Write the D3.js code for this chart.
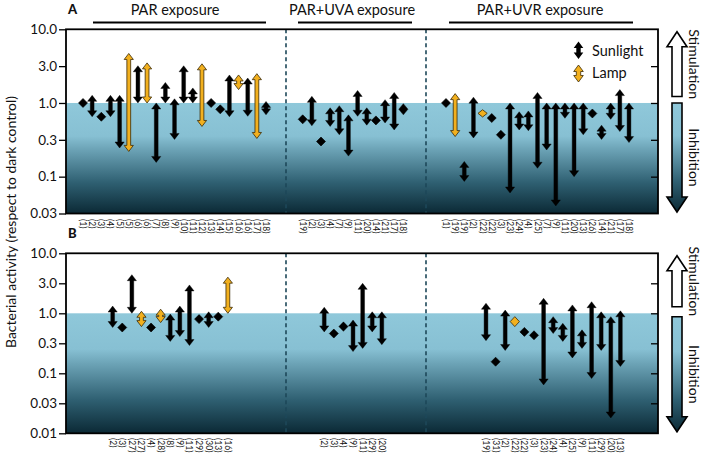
<!DOCTYPE html>
<html><head><meta charset="utf-8">
<script src="https://cdn.jsdelivr.net/npm/d3@7"></script>
<style>body{margin:0;background:#fff} svg{display:block} text{font-family:Lato,"Open Sans",sans-serif;fill:#111}</style>
</head><body><svg id="c" width="708" height="462"></svg>
<script>
// ---------- DATA ----------
const yTickValues = [10, Math.pow(10,0.5), 1, Math.pow(10,-0.5), 0.1, Math.pow(10,-1.5), 0.01];
const yTickLabels = ["10.0","3.0","1.0","0.3","0.1","0.03","0.01"];
const sectionTitles = ["PAR exposure","PAR+UVA exposure","PAR+UVR exposure"];

// Panel A – PAR
const aParLabels = ["(1)","(2)","(3)","(4)","(5)","(5)","(6)","(6)","(7)","(8)","(9)","(10)","(11)","(12)","(13)","(14)","(15)","(16)","(16)","(17)","(18)"];
const aParLow  = [1.0,0.65,0.65,0.65,0.245,0.22,1.0,1.0,0.156,1.0,0.32,1.0,1.0,0.48,1.0,0.82,0.65,1.52,0.66,0.33,0.69];
const aParHigh = [1.0,1.27,0.65,1.27,1.27,4.7,3.2,3.5,1.0,1.9,1.14,3.2,1.6,3.4,1.0,0.82,2.4,2.4,2.18,2.5,1.05];
const aParSrc  = ["S","S","S","S","S","L","S","L","S","S","S","S","S","L","S","S","S","L","S","L","S"];
// Panel A – PAR+UVA
const aUvaLabels = ["(19)","(2)","(3)","(4)","(7)","(9)","(11)","(20)","(14)","(21)","(17)","(18)"];
const aUvaLow  = [0.6,0.49,0.30,0.48,0.37,0.19,0.66,0.5,0.58,0.535,0.43,0.69];
const aUvaHigh = [0.6,1.23,0.30,0.86,0.92,0.69,1.48,0.86,0.58,1.11,1.39,0.98];
const aUvaSrc  = ["S","S","S","S","S","S","S","S","S","S","S","S"];
// Panel A – PAR+UVR
const aUvrLabels = ["(1)","(19)","(19)","(2)","(22)","(22)","(3)","(23)","(24)","(4)","(25)","(7)","(9)","(11)","(20)","(13)","(26)","(14)","(21)","(17)","(18)"];
const aUvrLow  = [1.0,0.35,0.086,0.335,0.645,0.625,0.37,0.06,0.43,0.42,0.13,0.23,0.04,0.62,0.1,0.37,0.72,0.32,0.6,0.41,0.29];
const aUvrHigh = [1.0,1.34,0.161,1.2,0.81,0.625,0.37,1.0,0.76,0.78,1.39,1.0,1.0,1.0,1.0,1.0,0.72,0.5,1.0,1.52,1.0];
const aUvrSrc  = ["S","L","S","S","L","S","S","S","S","S","S","S","S","S","S","S","S","S","S","S","S"];
// Panel B – PAR
const bParLabels = ["(2)","(3)","(27)","(27)","(4)","(28)","(8)","(9)","(11)","(29)","(30)","(13)","(16)"];
const bParLow  = [0.58,0.58,1.0,0.6,0.58,0.7,0.34,0.41,0.29,0.8,0.58,0.88,1.0];
const bParHigh = [1.32,0.58,4.4,1.08,0.58,1.17,0.97,1.32,2.97,0.8,1.06,0.88,4.0];
const bParSrc  = ["S","S","S","L","S","L","S","S","S","S","S","S","L"];
// Panel B – PAR+UVA
const bUvaLabels = ["(2)","(3)","(4)","(9)","(11)","(29)","(20)"];
const bUvaLow  = [0.49,0.46,0.5,0.23,0.26,0.49,0.3];
const bUvaHigh = [1.26,0.46,0.72,0.77,3.16,1.06,1.06];
const bUvaSrc  = ["S","S","S","S","S","S","S"];
// Panel B – PAR+UVR
const bUvrLabels = ["(19)","(31)","(2)","(22)","(22)","(3)","(23)","(24)","(4)","(25)","(9)","(11)","(29)","(20)","(13)"];
const bUvrLow  = [0.35,0.156,0.24,0.6,0.49,0.43,0.064,0.46,0.34,0.18,0.26,0.082,0.24,0.018,0.13];
const bUvrHigh = [1.47,0.156,1.13,0.88,0.49,0.43,1.78,0.88,0.68,1.38,0.53,1.56,1.06,0.88,1.1];
const bUvrSrc  = ["S","S","S","L","S","S","S","S","S","S","S","S","S","S","S"];

// ---------- LAYOUT ----------
const L = 66, R = 658;
const COL = {S:"#000", L:"#f2b01e"};
const svg = d3.select("#c");
const defs = svg.append("defs");
const grad = defs.append("linearGradient").attr("id","g").attr("x1",0).attr("y1",0).attr("x2",0).attr("y2",1);
[[0,"#8fc8da"],[0.30,"#87c0d3"],[0.42,"#6ca3b6"],[0.72,"#2f6072"],[1,"#0b2935"]]
  .forEach(s=>grad.append("stop").attr("offset",s[0]).attr("stop-color",s[1]));

function arrowPath(x, yt, yb, hw, hl, sw){
  const d = yb - yt;
  if (d < 2*hl) { const h = d/2; return `M${x},${yt}L${x+hw},${yt+h}L${x},${yb}L${x-hw},${yt+h}Z`; }
  return `M${x},${yt}L${x+hw},${yt+hl}L${x+sw},${yt+hl}L${x+sw},${yb-hl}L${x+hw},${yb-hl}L${x},${yb}`+
         `L${x-hw},${yb-hl}L${x-sw},${yb-hl}L${x-sw},${yt+hl}L${x-hw},${yt+hl}Z`;
}

const panels = [
  {name:"A", top:29.3, bottom:213.5, ymin:Math.pow(10,-1.5), slot:9.15, seps:[286,426], labelY:219,
   sections:[
     {labels:aParLabels, low:aParLow, high:aParHigh, src:aParSrc, off:1.86},
     {labels:aUvaLabels, low:aUvaLow, high:aUvaHigh, src:aUvaSrc, off:25.87},
     {labels:aUvrLabels, low:aUvrLow, high:aUvrHigh, src:aUvrSrc, off:41.53}]},
  {name:"B", top:253.3, bottom:433.3, ymin:0.01, slot:9.6, seps:[286,426], labelY:438,
   sections:[
     {labels:bParLabels, low:bParLow, high:bParHigh, src:bParSrc, off:4.86},
     {labels:bUvaLabels, low:bUvaLow, high:bUvaHigh, src:bUvaSrc, off:26.9},
     {labels:bUvrLabels, low:bUvrLow, high:bUvrHigh, src:bUvrSrc, off:43.75}]}
];

panels.forEach(p=>{
  const y = d3.scaleLog().domain([p.ymin,10]).range([p.bottom,p.top]);
  const x = d3.scaleLinear().domain([0,(R-L)/p.slot]).range([L,R]);
  const g = svg.append("g");
  // shading
  g.append("rect").attr("x",L).attr("y",y(1)).attr("width",R-L).attr("height",p.bottom-y(1)).attr("fill","url(#g)");
  // separators
  p.seps.forEach(sx=>g.append("line").attr("x1",sx).attr("x2",sx).attr("y1",p.top).attr("y2",p.bottom)
    .attr("stroke","#1d4859").attr("stroke-width",1.6).attr("stroke-dasharray","4,3"));
  const ticks = yTickValues.filter(v=>v>=p.ymin*0.999);
  // left axis
  const ax = d3.axisLeft(y).tickValues(ticks).tickSize(7).tickPadding(2)
      .tickFormat(v=>yTickLabels[yTickValues.indexOf(v)]);
  const ga = g.append("g").attr("transform",`translate(${L},0)`).call(ax);
  ga.select(".domain").remove();
  ga.selectAll("line").attr("stroke","#000").attr("stroke-width",1.3);
  ga.selectAll("text").style("font-size","13.5px").style("font-family","Lato,sans-serif").attr("fill","#111");
  // right axis inward ticks
  const ar = d3.axisRight(y).tickValues(ticks.filter(v=>v<9 && v>p.ymin*1.01)).tickSize(-7).tickFormat("");
  const gr = g.append("g").attr("transform",`translate(${R},0)`).call(ar);
  gr.select(".domain").remove();
  gr.selectAll("line").attr("stroke","#000").attr("stroke-width",1.3);
  // frame
  g.append("rect").attr("x",L).attr("y",p.top).attr("width",R-L).attr("height",p.bottom-p.top)
    .attr("fill","none").attr("stroke","#000").attr("stroke-width",1.8);
  // marks
  p.sections.forEach(s=>{
    s.labels.forEach((lab,i)=>{
      const cx = x(s.off+i);
      const lo = s.low[i], hi = s.high[i];
      const fill = COL[s.src[i]];
      const stroke = s.src[i]==="L" ? "#3b2a05" : "#000";
      if (lo===hi) {
        const cy = y(lo);
        g.append("path").attr("d",`M${cx},${cy-4.5}L${cx+4.5},${cy}L${cx},${cy+4.5}L${cx-4.5},${cy}Z`)
          .attr("fill",fill).attr("stroke",stroke).attr("stroke-width",0.6);
      } else {
        g.append("path").attr("d",arrowPath(cx,y(hi),y(lo),4.6,6,1.9))
          .attr("fill",fill).attr("stroke",stroke).attr("stroke-width",s.src[i]==="L"?0.8:0.4);
      }
      g.append("text").attr("transform",`translate(${cx},${p.labelY}) rotate(90)`)
        .attr("dy","0.35em").style("font-size","8.5px").text(lab);
    });
  });
  // panel letter
  g.append("text").attr("x",68).attr("y",p.top-15.5).style("font-size","13px").style("font-weight","900").text(p.name);
  // right-side stimulation / inhibition arrows
  const ax0 = 677, hw=10, sw=5, hh=15;
  const st = p.top+2.5, sb = y(1)-6.5;
  g.append("path").attr("d",`M${ax0},${st}L${ax0+hw},${st+hh}L${ax0+sw},${st+hh}L${ax0+sw},${sb}L${ax0-sw},${sb}L${ax0-sw},${st+hh}L${ax0-hw},${st+hh}Z`)
    .attr("fill","#fff").attr("stroke","#000").attr("stroke-width",1.6);
  const it = y(1)+ (p.name==="A"?0:3.5), ib = p.bottom-1.5;
  g.append("path").attr("d",`M${ax0-sw},${it}L${ax0+sw},${it}L${ax0+sw},${ib-hh}L${ax0+hw},${ib-hh}L${ax0},${ib}L${ax0-hw},${ib-hh}L${ax0-sw},${ib-hh}Z`)
    .attr("fill","url(#g)").attr("stroke","#000").attr("stroke-width",1.6);
  g.append("text").attr("transform",`translate(694,${(st+sb)/2}) rotate(90)`).attr("text-anchor","middle")
    .attr("dy","0.35em").style("font-size","14px").text("Stimulation");
  g.append("text").attr("transform",`translate(694,${(it+ib)/2}) rotate(90)`).attr("text-anchor","middle")
    .attr("dy","0.35em").style("font-size","14px").text("Inhibition");
});

// section headers (top)
const hdr = [[175,93,266],[352,298,412],[540,449,633]];
sectionTitles.forEach((t,i)=>{
  svg.append("text").attr("x",hdr[i][0]).attr("y",15).attr("text-anchor","middle").style("font-size","14.5px").text(t);
  svg.append("line").attr("x1",hdr[i][1]).attr("x2",hdr[i][2]).attr("y1",22.5).attr("y2",22.5)
    .attr("stroke","#000").attr("stroke-width",2);
});

// legend
svg.append("path").attr("d",arrowPath(578.5,41.5,59,4.8,6.5,2.2)).attr("fill",COL.S);
svg.append("path").attr("d",arrowPath(578.5,65,82,4.8,6.5,2.2)).attr("fill",COL.L).attr("stroke","#3b2a05").attr("stroke-width",0.8);
svg.append("text").attr("x",592).attr("y",56).style("font-size","14.5px").text("Sunlight");
svg.append("text").attr("x",592).attr("y",78).style("font-size","14.5px").text("Lamp");

// y axis title
svg.append("text").attr("transform","translate(11,222) rotate(-90)").attr("text-anchor","middle")
  .attr("dy","0.35em").style("font-size","14px").text("Bacterial activity (respect to dark control)");
</script></body></html>
